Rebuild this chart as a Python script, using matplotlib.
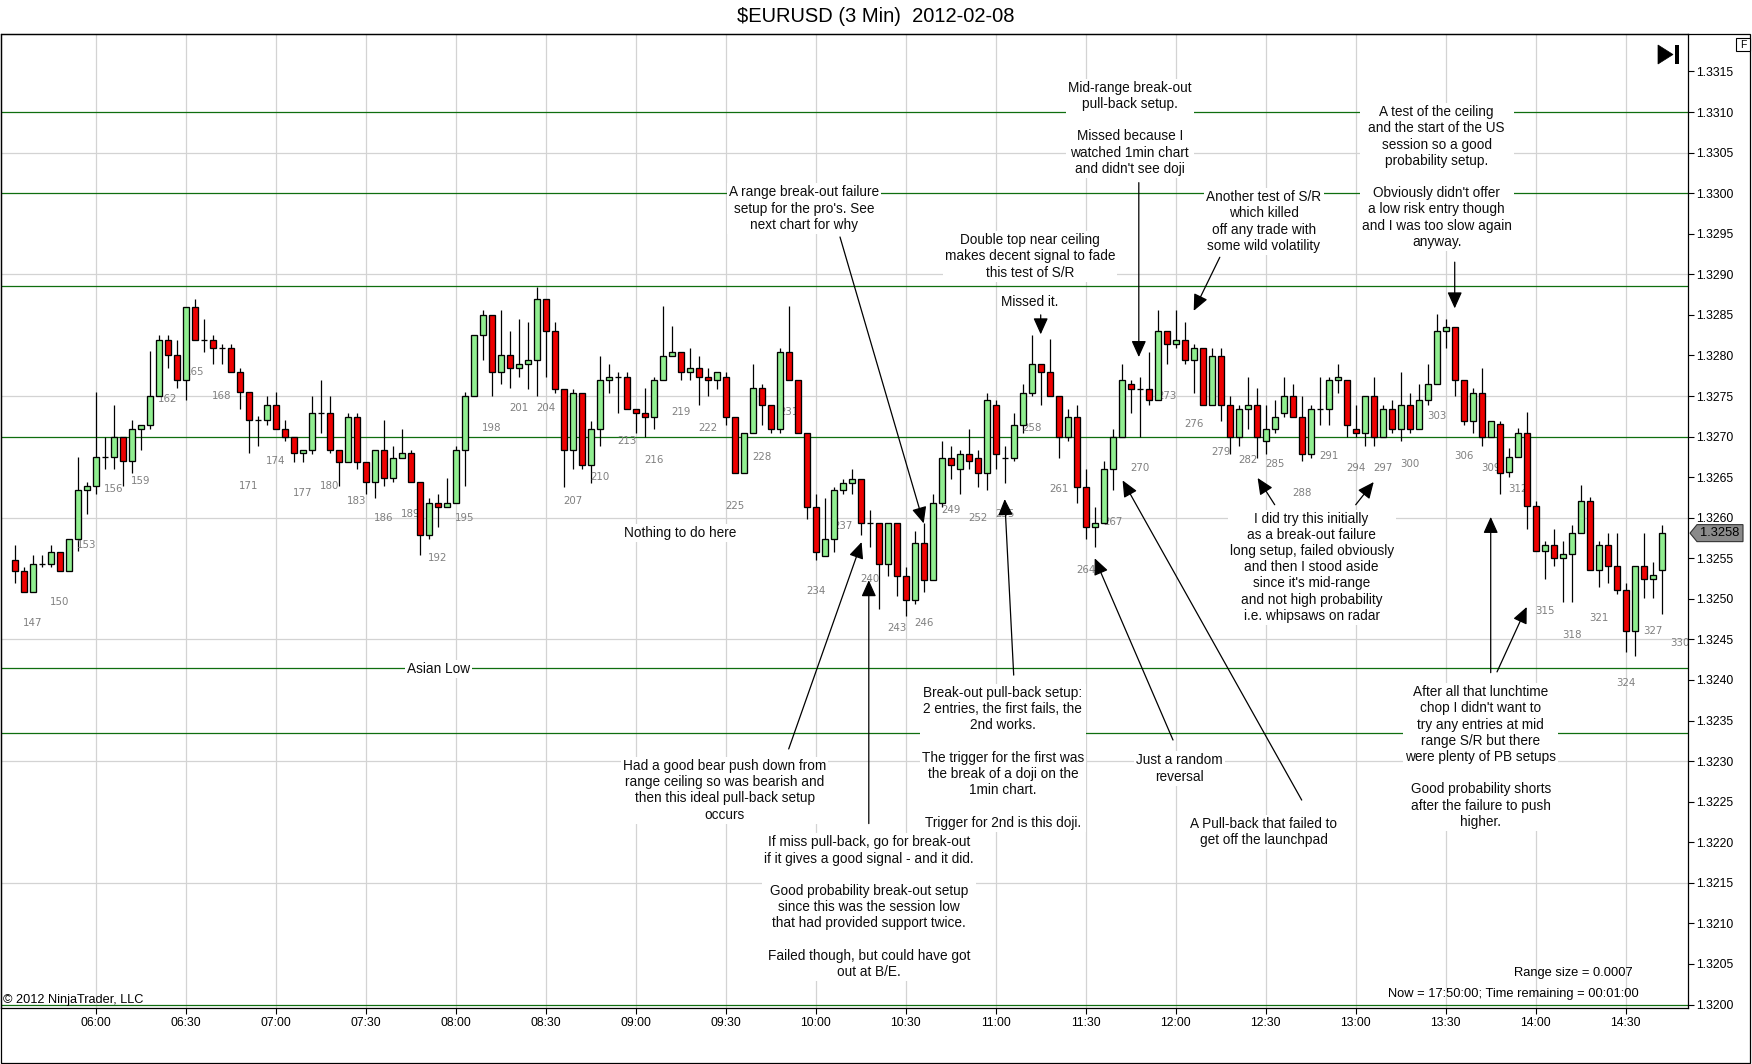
import matplotlib
matplotlib.use("Agg")
import matplotlib.pyplot as plt
from matplotlib.patches import Rectangle, Polygon
import numpy as np

plt.rcParams['font.family'] = ['Liberation Sans', 'DejaVu Sans']

# ---------------- data ----------------
first_bar = 146
opens = [1.32548,1.32534,1.32509,1.32543,1.32543,1.32558,1.32534,1.32574,1.32634,1.32639,
         1.32675,1.32675,1.32699,1.32670,1.32709,1.32714,1.32750,1.32819,1.32800,1.32770,
         1.32860,1.32819,1.32819,1.32809,1.32809,1.32780,1.32755,1.32720,1.32720,1.32739,
         1.32709,1.32700,1.32680,1.32684,1.32729,1.32729,1.32684,1.32669,1.32724,1.32669,
         1.32644,1.32684,1.32649,1.32674,1.32680,1.32644,1.32579,1.32618,1.32613,1.32618,
         1.32684,1.32750,1.32825,1.32850,1.32780,1.32800,1.32785,1.32790,1.32795,1.32870,
         1.32830,1.32759,1.32684,1.32754,1.32665,1.32709,1.32770,1.32774,1.32774,1.32734,
         1.32729,1.32724,1.32770,1.32799,1.32804,1.32780,1.32785,1.32774,1.32770,1.32774,
         1.32724,1.32655,1.32704,1.32760,1.32739,1.32709,1.32804,1.32770,1.32704,1.32613,
         1.32553,1.32574,1.32634,1.32643,1.32648,1.32594,1.32594,1.32543,1.32594,1.32528,
         1.32499,1.32569,1.32523,1.32618,1.32674,1.32660,1.32679,1.32674,1.32655,1.32739,
         1.32674,1.32674,1.32714,1.32754,1.32790,1.32780,1.32750,1.32700,1.32724,1.32638,
         1.32589,1.32594,1.32660,1.32700,1.32765,1.32759,1.32759,1.32745,1.32830,1.32814,
         1.32819,1.32794,1.32809,1.32739,1.32799,1.32739,1.32700,1.32734,1.32739,1.32694,
         1.32709,1.32729,1.32750,1.32724,1.32679,1.32734,1.32734,1.32770,1.32770,1.32709,
         1.32704,1.32750,1.32700,1.32734,1.32709,1.32739,1.32709,1.32745,1.32765,1.32830,
         1.32835,1.32770,1.32719,1.32754,1.32700,1.32715,1.32656,1.32675,1.32705,1.32615,
         1.32559,1.32566,1.32550,1.32555,1.32581,1.32620,1.32536,1.32566,1.32541,1.32511,
         1.32460,1.32541,1.32525,1.32536]
highs = [1.32566,1.32539,1.32554,1.32554,1.32566,1.32558,1.32574,1.32675,1.32644,1.32755,
         1.32699,1.32739,1.32699,1.32720,1.32714,1.32805,1.32825,1.32825,1.32819,1.32860,
         1.32870,1.32845,1.32825,1.32814,1.32814,1.32785,1.32755,1.32725,1.32750,1.32755,
         1.32720,1.32700,1.32684,1.32750,1.32770,1.32750,1.32684,1.32729,1.32729,1.32669,
         1.32684,1.32720,1.32689,1.32709,1.32684,1.32644,1.32624,1.32629,1.32649,1.32689,
         1.32755,1.32825,1.32856,1.32850,1.32856,1.32830,1.32845,1.32841,1.32884,1.32870,
         1.32841,1.32759,1.32759,1.32754,1.32719,1.32799,1.32790,1.32779,1.32779,1.32734,
         1.32760,1.32774,1.32861,1.32836,1.32804,1.32809,1.32799,1.32785,1.32780,1.32780,
         1.32724,1.32704,1.32790,1.32765,1.32739,1.32809,1.32861,1.32770,1.32704,1.32629,
         1.32624,1.32638,1.32648,1.32660,1.32648,1.32609,1.32594,1.32594,1.32594,1.32539,
         1.32584,1.32594,1.32629,1.32694,1.32689,1.32684,1.32709,1.32684,1.32754,1.32745,
         1.32689,1.32729,1.32765,1.32825,1.32790,1.32820,1.32750,1.32734,1.32739,1.32660,
         1.32613,1.32670,1.32709,1.32790,1.32770,1.32774,1.32804,1.32856,1.32830,1.32856,
         1.32841,1.32814,1.32809,1.32809,1.32809,1.32750,1.32739,1.32774,1.32760,1.32739,
         1.32745,1.32774,1.32765,1.32750,1.32739,1.32774,1.32774,1.32790,1.32770,1.32739,
         1.32750,1.32774,1.32739,1.32745,1.32780,1.32754,1.32765,1.32790,1.32851,1.32845,
         1.32835,1.32770,1.32760,1.32785,1.32719,1.32719,1.32686,1.32710,1.32730,1.32620,
         1.32571,1.32586,1.32571,1.32591,1.32640,1.32625,1.32571,1.32581,1.32581,1.32520,
         1.32541,1.32581,1.32545,1.32591]
lows = [1.32519,1.32509,1.32509,1.32539,1.32539,1.32534,1.32534,1.32559,1.32604,1.32629,
        1.32660,1.32660,1.32639,1.32655,1.32684,1.32709,1.32750,1.32785,1.32760,1.32745,
        1.32819,1.32804,1.32790,1.32790,1.32780,1.32734,1.32680,1.32689,1.32714,1.32709,
        1.32694,1.32669,1.32669,1.32679,1.32704,1.32680,1.32639,1.32669,1.32660,1.32629,
        1.32624,1.32639,1.32644,1.32674,1.32644,1.32554,1.32574,1.32589,1.32613,1.32618,
        1.32639,1.32750,1.32795,1.32750,1.32765,1.32760,1.32774,1.32759,1.32750,1.32774,
        1.32754,1.32638,1.32660,1.32660,1.32643,1.32689,1.32754,1.32729,1.32734,1.32704,
        1.32700,1.32709,1.32770,1.32799,1.32770,1.32770,1.32739,1.32750,1.32759,1.32714,
        1.32655,1.32655,1.32704,1.32714,1.32704,1.32704,1.32770,1.32704,1.32599,1.32548,
        1.32553,1.32558,1.32629,1.32629,1.32579,1.32564,1.32488,1.32528,1.32504,1.32479,
        1.32494,1.32508,1.32523,1.32613,1.32648,1.32629,1.32660,1.32638,1.32634,1.32660,
        1.32643,1.32670,1.32704,1.32750,1.32739,1.32750,1.32674,1.32694,1.32618,1.32574,
        1.32564,1.32594,1.32634,1.32700,1.32729,1.32700,1.32739,1.32745,1.32790,1.32809,
        1.32790,1.32754,1.32739,1.32739,1.32719,1.32679,1.32689,1.32709,1.32674,1.32679,
        1.32704,1.32724,1.32724,1.32670,1.32674,1.32714,1.32714,1.32754,1.32700,1.32700,
        1.32689,1.32689,1.32700,1.32704,1.32694,1.32704,1.32709,1.32739,1.32765,1.32809,
        1.32750,1.32714,1.32704,1.32689,1.32700,1.32629,1.32650,1.32675,1.32586,1.32559,
        1.32525,1.32541,1.32496,1.32496,1.32581,1.32536,1.32515,1.32520,1.32506,1.32435,
        1.32430,1.32501,1.32501,1.32481]
closes = [1.32534,1.32509,1.32543,1.32543,1.32558,1.32534,1.32574,1.32634,1.32639,1.32675,
          1.32675,1.32699,1.32670,1.32709,1.32714,1.32750,1.32819,1.32800,1.32770,1.32860,
          1.32819,1.32819,1.32809,1.32809,1.32780,1.32755,1.32720,1.32720,1.32739,1.32709,
          1.32700,1.32680,1.32684,1.32729,1.32729,1.32684,1.32669,1.32724,1.32669,1.32644,
          1.32684,1.32649,1.32674,1.32680,1.32644,1.32579,1.32618,1.32613,1.32618,1.32684,
          1.32750,1.32825,1.32850,1.32780,1.32800,1.32785,1.32790,1.32795,1.32870,1.32830,
          1.32759,1.32684,1.32754,1.32665,1.32709,1.32770,1.32774,1.32774,1.32734,1.32729,
          1.32724,1.32770,1.32799,1.32804,1.32780,1.32785,1.32774,1.32770,1.32780,1.32724,
          1.32655,1.32704,1.32760,1.32739,1.32709,1.32804,1.32770,1.32704,1.32613,1.32558,
          1.32574,1.32634,1.32643,1.32648,1.32594,1.32594,1.32543,1.32594,1.32528,1.32499,
          1.32569,1.32523,1.32618,1.32674,1.32665,1.32679,1.32670,1.32655,1.32745,1.32679,
          1.32674,1.32714,1.32754,1.32790,1.32780,1.32750,1.32700,1.32724,1.32638,1.32589,
          1.32594,1.32660,1.32700,1.32770,1.32759,1.32759,1.32745,1.32830,1.32814,1.32819,
          1.32794,1.32809,1.32739,1.32799,1.32739,1.32700,1.32734,1.32739,1.32700,1.32709,
          1.32724,1.32750,1.32724,1.32679,1.32734,1.32734,1.32770,1.32774,1.32714,1.32704,
          1.32750,1.32700,1.32734,1.32709,1.32739,1.32709,1.32745,1.32765,1.32830,1.32835,
          1.32770,1.32719,1.32754,1.32700,1.32719,1.32655,1.32675,1.32705,1.32615,1.32559,
          1.32566,1.32550,1.32555,1.32581,1.32620,1.32536,1.32566,1.32541,1.32511,1.32460,
          1.32541,1.32525,1.32530,1.32581]

label_bars = [147,150,153,156,159,162,165,168,171,174,177,180,183,186,189,192,195,198,
              201,204,207,210,213,216,219,222,225,228,231,234,237,240,243,246,249,252,
              255,258,261,264,267,270,273,276,279,282,285,288,291,294,297,300,303,306,
              309,312,315,318,321,324,327,330]
label_prices = [1.32470,1.32496,1.32566,1.32635,1.32645,1.32746,1.32780,1.32750,1.32639,
                1.32670,1.32630,1.32639,1.32620,1.32600,1.32605,1.32550,1.32600,1.32710,
                1.32735,1.32735,1.32620,1.32650,1.32695,1.32671,1.32730,1.32710,1.32615,
                1.32675,1.32730,1.32510,1.32590,1.32525,1.32464,1.32470,1.32610,1.32600,
                1.32605,1.32710,1.32635,1.32535,1.32595,1.32661,1.32750,1.32715,1.32681,
                1.32671,1.32666,1.32630,1.32676,1.32661,1.32661,1.32666,1.32725,1.32676,
                1.32661,1.32635,1.32485,1.32455,1.32476,1.32396,1.32460,1.32445]

time_bars = [155,165,175,185,195,205,215,225,235,245,255,265,275,285,295,305,315,325]
time_labels = ["06:00","06:30","07:00","07:30","08:00","08:30","09:00","09:30","10:00",
               "10:30","11:00","11:30","12:00","12:30","13:00","13:30","14:00","14:30"]

level_prices = [1.3310, 1.3300, 1.32885, 1.3270, 1.32415, 1.32335, 1.3200]
grid_prices = [1.3215, 1.3230, 1.3245, 1.3260, 1.3275, 1.3290, 1.3305]
y_ticks = [1.3200,1.3205,1.3210,1.3215,1.3220,1.3225,1.3230,1.3235,1.3240,1.3245,1.3250,
           1.3255,1.3260,1.3265,1.3270,1.3275,1.3280,1.3285,1.3290,1.3295,1.3300,1.3305,
           1.3310,1.3315]

# annotations: (text, (x, y) text centre, list of arrows (start, tip))
annotations = [
    ("Mid-range break-out\npull-back setup.\n\nMissed because I\nwatched 1min chart\nand didn't see doji",
     (269.9, 1.33080), [((270.9, 1.33013), (270.9, 1.32798))]),
    ("A range break-out failure\nsetup for the pro's. See\nnext chart for why",
     (233.7, 1.32981), [((237.7, 1.32946), (247.0, 1.32593))]),
    ("Double top near ceiling\nmakes decent signal to fade\nthis test of S/R",
     (258.8, 1.32922), []),
    ("Missed it.", (258.8, 1.32866), [((260.0, 1.32850), (260.0, 1.32826))]),
    ("Another test of S/R\nwhich killed\noff any trade with\nsome wild volatility",
     (284.8, 1.32965), [((279.9, 1.32921), (277.0, 1.32855))]),
    ("A test of the ceiling\nand the start of the US\nsession so a good\nprobability setup.\n\n"
     "Obviously didn't offer\na low risk entry though\nand I was too slow again\nanyway.",
     (304.0, 1.33020), [((306.0, 1.32915), (306.0, 1.32858))]),
    ("I did try this initially\nas a break-out failure\nlong setup, failed obviously\n"
     "and then I stood aside\nsince it's mid-range\nand not high probability\ni.e. whipsaws on radar",
     (290.1, 1.32539), [((286.0, 1.32616), (284.1, 1.32649)),
                        ((295.0, 1.32616), (297.0, 1.32644))]),
    ("After all that lunchtime\nchop I didn't want to\ntry any entries at mid\nrange S/R but there\n"
     "were plenty of PB setups\n\nGood probability shorts\nafter the failure to push\nhigher.",
     (308.9, 1.32305), [((310.0, 1.32409), (310.0, 1.32601)),
                        ((310.7, 1.32410), (314.0, 1.32490))]),
    ("Asian Low", (193.05, 1.32414), []),
    ("Nothing to do here", (219.9, 1.32581), []),
    ("Had a good bear push down from\nrange ceiling so was bearish and\nthen this ideal pull-back setup\noccurs",
     (224.9, 1.32264), [((232.0, 1.32315), (240.1, 1.32570))]),
    ("If miss pull-back, go for break-out\nif it gives a good signal - and it did.\n\n"
     "Good probability break-out setup\nsince this was the session low\nthat had provided support twice.\n\n"
     "Failed though, but could have got\nout at B/E.",
     (240.9, 1.32120), [((240.9, 1.32223), (240.9, 1.32523))]),
    ("Break-out pull-back setup:\n2 entries, the first fails, the\n2nd works.\n\n"
     "The trigger for the first was\nthe break of a doji on the\n1min chart.\n\nTrigger for 2nd is this doji.",
     (255.8, 1.32304), [((257.0, 1.32406), (256.0, 1.32623))]),
    ("Just a random\nreversal", (275.4, 1.32291), [((274.7, 1.32326), (266.0, 1.32550))]),
    ("A Pull-back that failed to\nget off the launchpad",
     (284.8, 1.32213), [((289.0, 1.32252), (269.1, 1.32646))]),
]

# ---------------- figure ----------------
W, H = 1752, 1064
def fx(px): return px / W
def fy(py): return 1 - py / H

fig = plt.figure(figsize=(W / 100, H / 100), dpi=100)
fig.patch.set_facecolor('white')
L, R, T, B = 1, 1688, 34, 1008
ax = fig.add_axes([fx(L), fy(B), fx(R) - fx(L), fy(T) - fy(B)])
ax.set_facecolor('white')

ax.set_xlim(144.48, 331.92)
ax.set_ylim(1.319957, 1.331962)

# grid
ax.set_xticks(time_bars)
ax.set_xticklabels(time_labels)
ax.grid(axis='x', color='#d3d3d3', lw=0.9, zorder=0.5)
ax.set_axisbelow(True)
for g in grid_prices:
    ax.axhline(g, color='#d3d3d3', lw=0.9, zorder=0.5)

# horizontal S/R levels
for lv in level_prices:
    ax.axhline(lv, color='#0f6e0f', lw=0.9, zorder=1)

# candles
x = np.arange(first_bar, first_bar + len(opens))
o = np.array(opens); h = np.array(highs); l = np.array(lows); c = np.array(closes)
ax.vlines(x, l, h, color='black', lw=0.9, zorder=2)
colors = np.where(c > o, '#90ee90', np.where(c < o, '#ee0000', 'black'))
ax.bar(x, c - o, bottom=o, width=0.66, color=colors, edgecolor='black',
       linewidth=0.95, zorder=3)

# bar number labels
for n, p in zip(label_bars, label_prices):
    ax.text(n - 0.05, p, str(n), ha='left', va='center', fontsize=7.4,
            color='#808080', family='DejaVu Sans', zorder=2.5)

# annotations
for txt, (tx, ty), arrows in annotations:
    ax.text(tx, ty, txt, ha='center', va='center', multialignment='center',
            fontsize=9.8, color='#0d0d0d', linespacing=1.2, zorder=6,
            bbox=dict(facecolor='white', edgecolor='none', pad=1.5))
    for start, tip in arrows:
        ax.annotate('', xy=tip, xytext=start, zorder=7,
                    arrowprops=dict(arrowstyle='-|>,head_length=1.0,head_width=0.45',
                                    color='black', lw=0.9, shrinkA=0, shrinkB=0,
                                    mutation_scale=10))

# axes styling
for s in ax.spines.values():
    s.set_color('black'); s.set_linewidth(0.9)
ax.yaxis.tick_right()
ax.set_yticks(y_ticks)
ax.set_yticklabels([f"{v:.4f}" for v in y_ticks])
ax.tick_params(axis='y', length=4.3, width=0.8, pad=1.5, labelsize=8.8, colors='black')
ax.tick_params(axis='x', length=4.3, width=0.8, pad=2.0, labelsize=8.8, colors='black')

# outer frame
fig.add_artist(Rectangle((fx(0.5), fy(1063)), fx(1750) - fx(0.5), fy(34) - fy(1063),
                         transform=fig.transFigure, fill=False, ec='black', lw=0.9))

# title
fig.text(fx(876), fy(16), "\\$EURUSD (3 Min)  2012-02-08", ha='center', va='center',
         fontsize=14.5, color='black')

# go-to-end icon and F box
fig.add_artist(Polygon([(fx(1658), fy(45)), (fx(1658), fy(64)), (fx(1673), fy(54.5))],
                       closed=True, transform=fig.transFigure, fc='black', ec='black', lw=0.5))
fig.add_artist(Rectangle((fx(1675), fy(64)), 4 / W, 19 / H, transform=fig.transFigure,
                         fc='black', ec='none'))
fig.add_artist(Rectangle((fx(1736), fy(51)), 14 / W, 13 / H, transform=fig.transFigure,
                         fc='white', ec='black', lw=0.8))
fig.text(fx(1743), fy(44.5), "F", ha='center', va='center', fontsize=7.5)

# last price tag
fig.canvas.draw()
last_y = ax.transData.transform((x[-1], closes[-1]))[1]  # pixels from bottom
py = H - last_y
fig.add_artist(Polygon([(fx(1690), fy(py)), (fx(1697), fy(py - 8.5)), (fx(1743), fy(py - 8.5)),
                        (fx(1743), fy(py + 8.5)), (fx(1697), fy(py + 8.5))], closed=True,
                       transform=fig.transFigure, fc='#8a8a8a', ec='#333333', lw=0.8))
fig.text(fx(1720), fy(py), f"{closes[-1]:.4f}", ha='center', va='center',
         fontsize=9.3, color='black')

# footer texts
fig.text(fx(3), fy(1000), "\u00a9 2012 NinjaTrader, LLC", ha='left', va='center', fontsize=9.2)
fig.text(fx(1633), fy(973), "Range size = 0.0007", ha='right', va='center', fontsize=9.3)
fig.text(fx(1639), fy(994), "Now = 17:50:00; Time remaining = 00:01:00", ha='right',
         va='center', fontsize=9.3)

fig.savefig("out.png", dpi=100)
